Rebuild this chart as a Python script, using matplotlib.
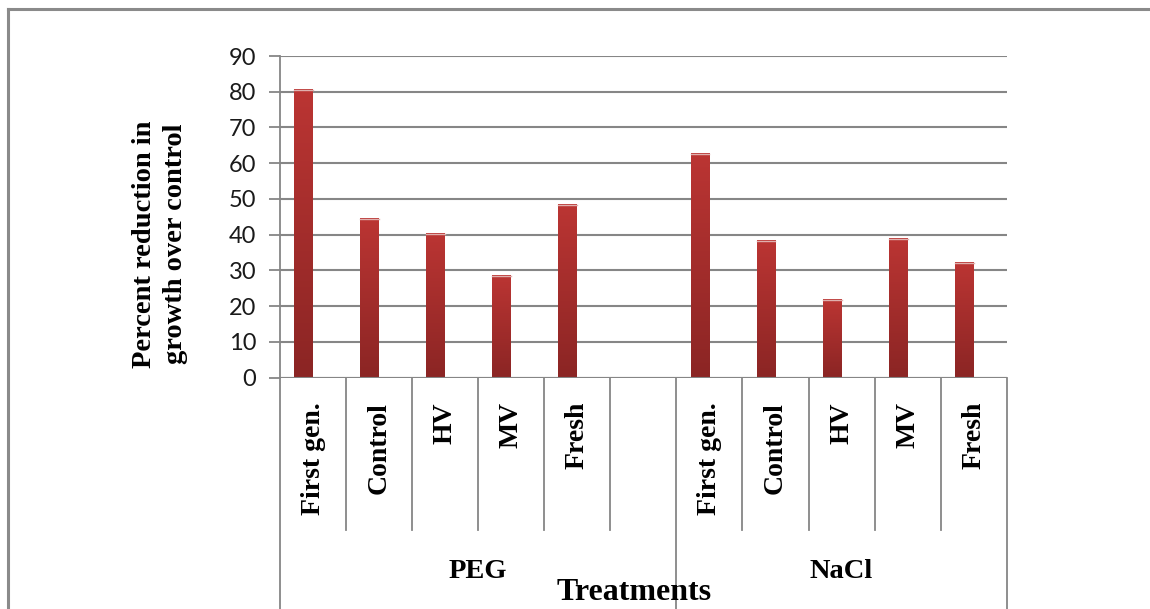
import numpy as np
import matplotlib
matplotlib.use("Agg")
import matplotlib.pyplot as plt
from matplotlib.colors import LinearSegmentedColormap
from matplotlib.lines import Line2D
import matplotlib.transforms as mtransforms

# percent reduction in growth over control, per treatment group
groups = ["PEG", "NaCl"]
varieties = ["First gen.", "Control", "HV", "MV", "Fresh"]
peg_values = [80.5, 44.3, 40.2, 28.3, 48.3]
nacl_values = [62.7, 38.1, 21.6, 38.8, 32.0]

# PEG block has an empty slot after Fresh
labels = varieties + [""] + varieties
values = peg_values + [None] + nacl_values

serif = "Liberation Serif"
sans = "Lato"
grid_col = "#868686"

fig = plt.figure(figsize=(11.5, 6.09), dpi=100)
W, H = 1150, 609
ax = fig.add_axes([280 / W, (H - 377.5) / H, (1006.7 - 280) / W, (377.5 - 56) / H])

n = len(labels)
bw = 1 / 3.5

# bars with a vertical red gradient
cmap = LinearSegmentedColormap.from_list("bar", ["#8b2524", "#bb3533"])
grad = np.linspace(0, 1, 256).reshape(-1, 1)
for i, v in enumerate(values):
    if v is None:
        continue
    x0 = i + 0.5 - bw
    ax.imshow(grad, cmap=cmap, origin="lower", aspect="auto",
              extent=(x0, x0 + bw, 0, v), zorder=3, interpolation="bilinear")
    ax.plot([x0, x0 + bw], [v, v], color="#e0b0ae", lw=1, zorder=4)
ax.set_xlim(0, n)
ax.set_ylim(0, 90)

ax.set_yticks(np.arange(0, 91, 10))
ax.yaxis.grid(True, color=grid_col, lw=1.5)
ax.set_axisbelow(True)
ax.tick_params(axis="y", direction="out", length=8, width=1.3, color=grid_col,
               labelsize=17, pad=9)
for t in ax.get_yticklabels():
    t.set_fontfamily(sans)
    t.set_color("#1a1a1a")
ax.set_xticks([])
for s in ["top", "right", "bottom"]:
    ax.spines[s].set_visible(False)
ax.spines["left"].set_color(grid_col)
ax.spines["left"].set_linewidth(1.3)
ax.axhline(0, color=grid_col, lw=1.5, zorder=5)

# category table below the plot
trans = mtransforms.blended_transform_factory(ax.transData, ax.transAxes)
ax_h = (377.5 - 56) / H
ax_b = (H - 377.5) / H
y_row = ((H - 530) / H - ax_b) / ax_h
y_bot = ((H - 612) / H - ax_b) / ax_h
for i in range(0, n + 1):
    yb = y_bot if i in (0, 6, n) else y_row
    ax.add_line(Line2D([i, i], [0, yb], transform=trans, color=grid_col,
                       lw=1.3, clip_on=False))

y_lab = ((H - 402) / H - ax_b) / ax_h
for i, lab in enumerate(labels):
    ax.text(i + 0.5, y_lab, lab, transform=trans, rotation=90, ha="center",
            va="top", fontsize=20, fontweight="bold", family=serif)

y_grp = ((H - 571) / H - ax_b) / ax_h
ax.text(3, y_grp, groups[0], transform=trans, ha="center", va="center",
        fontsize=20.5, fontweight="bold", family=serif)
ax.text(8.5, y_grp, groups[1], transform=trans, ha="center", va="center",
        fontsize=20.5, fontweight="bold", family=serif)

fig.text(634 / W, (H - 592) / H, "Treatments", ha="center", va="center",
         fontsize=23, fontweight="bold", family=serif)
fig.text(160 / W, (H - 244) / H, "Percent reduction in\ngrowth over control",
         rotation=90, ha="center", va="center", fontsize=20.5,
         fontweight="bold", family=serif, linespacing=1.3, multialignment="center")

# chart area frame
fig.add_artist(Line2D([8 / W, 8 / W], [(H - 9) / H, -0.01], color="#8a8a8a",
                      lw=2.2, transform=fig.transFigure))
fig.add_artist(Line2D([8 / W, 1.01], [(H - 9) / H, (H - 9) / H], color="#8a8a8a",
                      lw=2.2, transform=fig.transFigure))

fig.savefig("out.png", dpi=100)
